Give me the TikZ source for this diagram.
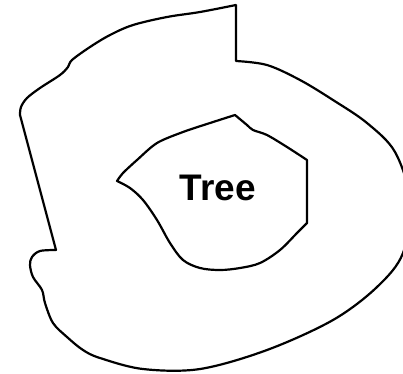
\documentclass[tikz,border=0pt]{standalone}
\usepackage{fontspec}
\setmainfont{Liberation Sans}
\begin{document}
\begin{tikzpicture}[x=1pt,y=-1pt,
  outline/.style={draw=black,line width=2.2pt,line join=round,line cap=round},
  label/.style={font=\fontsize{37}{40}\selectfont\bfseries,inner sep=0pt}]
\useasboundingbox (0,0) rectangle (403,373);
\clip (0,0) rectangle (403,373);
% outer region
\draw[outline] (236,5) -- (236,61)
  -- plot[smooth,tension=0.55] coordinates {(236,61) (267,65) (300,80) (333,100) (367,123) (395,152) (410,200) (403,253) (377,287) (333,320) (267,350) (200,369) (143,369) (100,358) (83,350) (67,337) (53,323) (45,303) (42,290) (33,277) (30,265) (32,257) (40,251) (56,250)}
  -- (20,115)
  -- plot[smooth,tension=0.55] coordinates {(20,115) (21,107) (27,98) (40,88) (60,75) (68,67) (72,60) (90,47) (110,35) (133,25) (167,17) (200,12) (236,5)};
% inner region
\draw[outline] (235,115)
  -- plot[smooth,tension=0.5] coordinates {(235,115) (210,123) (183,132) (157,143) (137,160) (123,173) (117,181)}
  -- plot[smooth,tension=0.55] coordinates {(117,181) (130,188) (143,200) (157,220) (170,243) (183,260) (200,268) (220,270) (240,268) (260,263) (280,250) (297,233) (307,223)}
  -- (307,160)
  -- plot[smooth,tension=0.5] coordinates {(307,160) (287,147) (267,135) (253,130) (247,125) (235,115)};
\node[label] (tree) at (218,188) {Tree};
\end{tikzpicture}
\end{document}
